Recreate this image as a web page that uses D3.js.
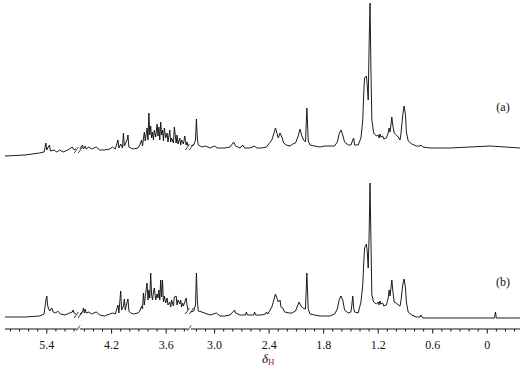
<!DOCTYPE html>
<html>
<head>
<meta charset="utf-8">
<script src="https://cdn.jsdelivr.net/npm/d3@7"></script>
<style>
body{margin:0;background:#fff;}
svg{display:block;}
</style>
</head>
<body>
<svg id="chart" width="529" height="373"></svg>
<script>
// ppm ranges kept on the broken axis (left -> right)
var segments = [[5.86, 5.07], [4.55, 3.36], [3.26, -0.36]];
var tickValues = [5.4, 4.2, 3.6, 3.0, 2.4, 1.8, 1.2, 0.6, 0];
var tickLabels = ["5.4", "4.2", "3.6", "3.0", "2.4", "1.8", "1.2", "0.6", "0"];
var traceNames = ["(a)", "(b)"];

// [ppm, intensity]
var specA = [
	[5.86,4],[5.64,5],[5.48,7],[5.43,8],[5.41,17],[5.40,10],[5.39,12],[5.37,15],[5.36,9],[5.32,10],[5.29,8],[5.26,10],[5.22,8],[5.17,10],[5.12,13],[5.10,10],[5.08,11],
	[4.55,11],[4.52,15],[4.51,11],[4.49,14],[4.48,11],[4.45,13],[4.42,11],[4.37,13],[4.33,10],[4.28,10],[4.22,11],[4.19,13],[4.16,11],[4.13,20],[4.12,12],[4.10,16],[4.08,12],[4.07,27],[4.06,14],[4.03,20],[4.02,25],[4.01,13],[3.99,12],[3.96,11],[3.91,12],[3.89,15],[3.87,20],[3.86,14],[3.84,28],[3.83,19],[3.81,32],[3.80,20],[3.79,47],[3.78,25],[3.77,34],[3.76,22],[3.75,28],[3.74,20],[3.73,30],[3.715,23],[3.70,36],[3.69,24],[3.68,33],[3.67,20],[3.66,38],[3.65,25],[3.64,30],[3.63,19],[3.62,32],[3.605,22],[3.59,27],[3.58,18],[3.56,30],[3.55,18],[3.54,22],[3.52,17],[3.51,33],[3.49,17],[3.48,25],[3.47,16],[3.45,22],[3.44,15],[3.43,20],[3.41,16],[3.395,24],[3.38,15],[3.37,18],[3.36,14],
	[3.26,14],[3.23,15],[3.21,20],[3.20,41],[3.19,22],[3.18,15],[3.14,13],[3.10,14],[3.05,12],[3.00,14],[2.97,12],[2.89,12],[2.83,13],[2.79,18],[2.77,14],[2.72,12],[2.69,15],[2.67,12],[2.61,12],[2.56,14],[2.54,12],[2.48,12],[2.43,13],[2.37,20],[2.33,32],[2.30,22],[2.28,27],[2.26,23],[2.24,17],[2.21,15],[2.17,14],[2.14,16],[2.11,17],[2.08,24],[2.06,31],[2.04,24],[2.02,20],[2.00,18],[1.985,52],[1.97,19],[1.95,15],[1.90,14],[1.84,13],[1.79,14],[1.73,14],[1.68,14],[1.65,18],[1.63,26],[1.61,30],[1.59,25],[1.57,18],[1.53,15],[1.50,15],[1.48,20],[1.47,22],[1.46,15],[1.42,15],[1.39,22],[1.37,40],[1.36,65],[1.35,82],[1.33,84],[1.32,74],[1.31,60],[1.30,115],[1.29,157],[1.28,90],[1.27,40],[1.25,27],[1.22,24],[1.20,25],[1.19,22],[1.18,26],[1.17,23],[1.15,24],[1.14,21],[1.11,22],[1.09,27],[1.08,32],[1.07,28],[1.06,35],[1.05,43],[1.04,35],[1.025,27],[1.00,25],[0.98,23],[0.96,20],[0.95,26],[0.93,45],[0.915,54],[0.90,45],[0.89,28],[0.87,19],[0.83,16],[0.78,14],[0.74,14],[0.73,15],[0.71,13],[0.63,12],[0.41,12],[0.19,13],[-0.03,14],[-0.20,13],[-0.36,12]
];
var specB = [
	[5.86,8],[5.64,8],[5.48,9],[5.43,11],[5.41,25],[5.40,29],[5.39,19],[5.37,14],[5.345,17],[5.33,13],[5.30,12],[5.28,14],[5.25,11],[5.20,10],[5.15,12],[5.12,13],[5.11,15],[5.10,12],[5.08,11],
	[4.55,11],[4.52,13],[4.51,17],[4.50,12],[4.49,16],[4.48,12],[4.45,13],[4.42,11],[4.37,13],[4.33,10],[4.28,9],[4.22,11],[4.19,12],[4.16,11],[4.13,20],[4.12,12],[4.10,34],[4.09,15],[4.07,19],[4.06,26],[4.05,15],[4.03,23],[4.02,26],[4.01,14],[3.99,12],[3.96,11],[3.91,12],[3.89,14],[3.87,19],[3.86,16],[3.85,32],[3.84,20],[3.83,29],[3.81,42],[3.80,25],[3.79,35],[3.78,27],[3.77,52],[3.76,30],[3.75,25],[3.74,33],[3.73,37],[3.715,25],[3.70,31],[3.69,27],[3.68,35],[3.67,25],[3.66,45],[3.65,28],[3.64,45],[3.63,23],[3.62,29],[3.605,22],[3.59,27],[3.58,20],[3.56,23],[3.55,18],[3.54,25],[3.52,19],[3.51,28],[3.49,29],[3.48,20],[3.47,25],[3.45,21],[3.44,25],[3.43,18],[3.42,22],[3.41,19],[3.395,23],[3.38,27],[3.37,20],[3.36,15],
	[3.26,13],[3.23,14],[3.21,20],[3.20,52],[3.19,25],[3.18,14],[3.14,13],[3.11,12],[3.05,10],[2.98,12],[2.94,9],[2.89,9],[2.83,10],[2.79,14],[2.78,15],[2.77,12],[2.72,10],[2.66,10],[2.65,13],[2.64,10],[2.57,10],[2.56,13],[2.55,10],[2.48,10],[2.44,11],[2.43,13],[2.415,11],[2.37,18],[2.33,31],[2.30,23],[2.28,25],[2.27,18],[2.25,17],[2.23,13],[2.18,12],[2.15,12],[2.13,13],[2.11,14],[2.07,23],[2.05,19],[2.03,17],[2.00,16],[1.985,52],[1.97,16],[1.95,11],[1.90,10],[1.84,9],[1.79,9],[1.73,9],[1.68,11],[1.65,16],[1.63,25],[1.61,29],[1.59,25],[1.57,15],[1.53,12],[1.50,13],[1.49,20],[1.48,29],[1.47,17],[1.46,13],[1.42,12],[1.39,23],[1.37,40],[1.36,60],[1.35,77],[1.33,81],[1.32,73],[1.31,57],[1.30,90],[1.29,142],[1.28,85],[1.27,30],[1.25,23],[1.22,21],[1.20,23],[1.19,20],[1.18,24],[1.17,21],[1.15,22],[1.14,19],[1.11,20],[1.09,27],[1.08,35],[1.07,29],[1.06,37],[1.05,45],[1.04,35],[1.025,23],[1.00,22],[0.98,20],[0.96,19],[0.95,24],[0.93,40],[0.915,46],[0.90,37],[0.89,23],[0.87,13],[0.83,10],[0.78,8],[0.74,8],[0.73,10],[0.71,7],[0.63,7],[0.41,7],[0.19,7],[-0.03,7],[-0.08,7],[-0.09,13],[-0.10,7],[-0.20,7],[-0.36,7]
];

var FONT = "'Liberation Serif', 'Times New Roman', 'DejaVu Serif', serif";
var svg = d3.select("#chart");
var left = 5, right = 520, gap = 3, axisY = 329;

// piecewise x scale over the broken axis
var span = d3.sum(segments, function(s){ return s[0] - s[1]; });
var k = (right - left - gap * (segments.length - 1)) / span;
var dom = [], rng = [], px = left;
segments.forEach(function(s){
	var w = (s[0] - s[1]) * k;
	dom.push(s[0], s[1]);
	rng.push(px, px + w);
	px += w + gap;
});
var x = d3.scaleLinear().domain(dom).range(rng);
var inSeg = function(v, s){ return v <= s[0] + 1e-9 && v >= s[1] - 1e-9; };

var yA = d3.scaleLinear().domain([0, 160]).range([160, 0]);
var yB = d3.scaleLinear().domain([0, 160]).range([325, 165]);
var traces = [
	{name: traceNames[0], data: specA, y: yA, ly: 111},
	{name: traceNames[1], data: specB, y: yB, ly: 286}
];

var slash = function(g, cx, cy, h){
	g.append("line").attr("x1", cx - h * 0.35).attr("y1", cy + h / 2)
		.attr("x2", cx + h * 0.35).attr("y2", cy - h / 2)
		.attr("stroke", "#111").attr("stroke-width", 0.8);
};

traces.forEach(function(t){
	var g = svg.append("g");
	var line = d3.line().x(function(d){ return x(d[0]); }).y(function(d){ return t.y(d[1]); });
	segments.forEach(function(s, i){
		var pts = t.data.filter(function(d){ return inSeg(d[0], s); });
		g.append("path").attr("d", line(pts))
			.attr("fill", "none").attr("stroke", "#111")
			.attr("stroke-width", 0.95).attr("stroke-linejoin", "round");
		// break marks "//"
		if(i < segments.length - 1){
			var last = pts[pts.length - 1];
			var gx = (x(s[1]) + x(segments[i + 1][0])) / 2;
			var gy = t.y(last[1]) + 1;
			slash(g, gx - 2, gy, 6);
			slash(g, gx + 2, gy, 6);
		}
	});
	svg.append("text").attr("x", 503).attr("y", t.ly)
		.attr("text-anchor", "middle").attr("font-family", FONT)
		.attr("font-size", 12).attr("fill", "#111").text(t.name);
});

// axis
var ax = svg.append("g");
segments.forEach(function(s, i){
	ax.append("line").attr("x1", x(s[0])).attr("x2", x(s[1]))
		.attr("y1", axisY).attr("y2", axisY)
		.attr("stroke", "#111").attr("stroke-width", 1);
	if(i < segments.length - 1){
		var gx = (x(s[1]) + x(segments[i + 1][0])) / 2;
		slash(ax, gx, axisY - 1, 5);
	}
	var minor = d3.range(-4, 60).map(function(v){ return v / 10; })
		.filter(function(v){ return inSeg(v, s); });
	ax.selectAll(null).data(minor).enter().append("line")
		.attr("x1", function(d){ return x(d); }).attr("x2", function(d){ return x(d); })
		.attr("y1", axisY).attr("y2", function(d){
			return tickValues.some(function(t){ return Math.abs(t - d) < 1e-6; }) ? axisY + 4.5 : axisY + 2.5;
		})
		.attr("stroke", "#111").attr("stroke-width", 1);
});

ax.selectAll(null).data(tickValues).enter().append("text")
	.attr("x", function(d){ return x(d); })
	.attr("y", 349)
	.attr("text-anchor", "middle")
	.attr("font-family", FONT).attr("font-size", 12).attr("fill", "#111")
	.text(function(d, i){ return tickLabels[i]; });

var lab = svg.append("text").attr("x", 262).attr("y", 363)
	.attr("font-family", FONT).attr("font-size", 13).attr("fill", "#111");
lab.append("tspan").attr("font-style", "italic").text("δ");
lab.append("tspan").attr("dy", 2).attr("font-size", 9).attr("fill", "#b22222").text("H");
</script>
</body>
</html>
